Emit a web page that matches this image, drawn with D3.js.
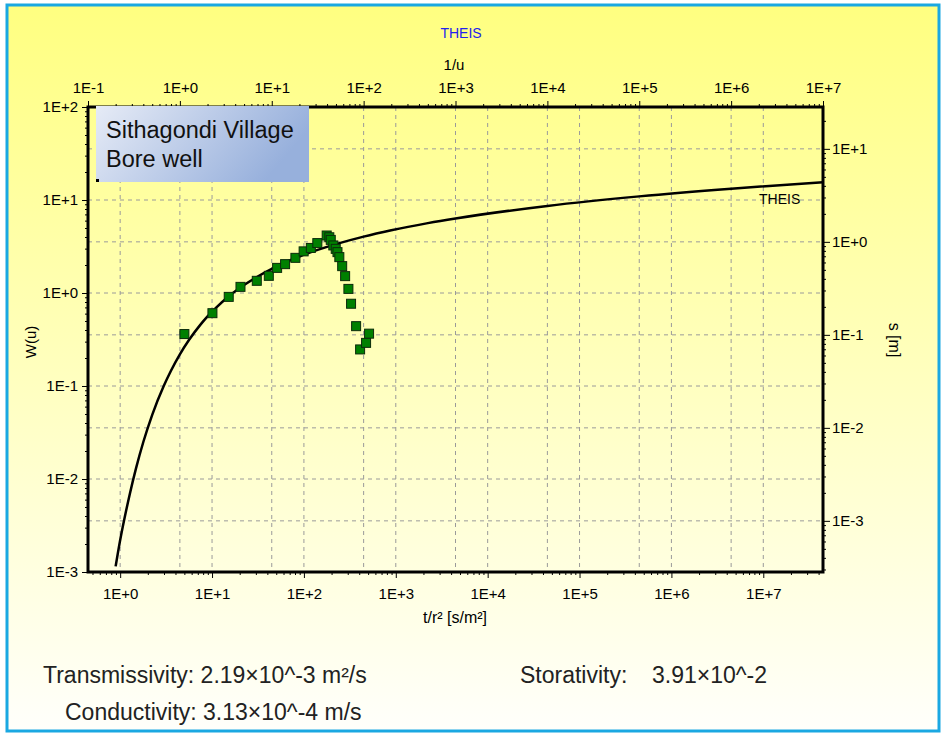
<!DOCTYPE html>
<html>
<head>
<meta charset="utf-8">
<script src="https://cdn.jsdelivr.net/npm/d3@7"></script>
<style>
  body { margin: 0; background: #fff; }
  text { font-family: "Liberation Sans", Arial, sans-serif; }
</style>
</head>
<body>
<script>
// tick labels (values are parsed from the labels)
var topTickLabels = ["1E-1", "1E+0", "1E+1", "1E+2", "1E+3", "1E+4", "1E+5", "1E+6", "1E+7"];
var bottomTickLabels = ["1E+0", "1E+1", "1E+2", "1E+3", "1E+4", "1E+5", "1E+6", "1E+7"];
var leftTickLabels = ["1E-3", "1E-2", "1E-1", "1E+0", "1E+1", "1E+2"];
var rightTickLabels = ["1E-3", "1E-2", "1E-1", "1E+0", "1E+1"];

// Theis type curve: 1/u against W(u)
var theisInvU = [0.2, 0.222, 0.25, 0.286, 0.333, 0.4, 0.5, 0.667, 0.8, 1, 1.25, 1.667, 2, 2.5, 3.33,
  5, 6.67, 10, 20, 50, 100, 200, 500, 1e3, 1e4, 1e5, 1e6, 1e7];
var theisW = [0.00115, 0.0021, 0.0038, 0.007, 0.013, 0.025, 0.049, 0.1, 0.146, 0.219, 0.31, 0.454, 0.56, 0.70, 0.906,
  1.22, 1.46, 1.82, 2.47, 3.35, 4.04, 4.73, 5.64, 6.33, 8.63, 10.94, 13.24, 15.54];

// measured drawdown: t/r² [s/m²] against s [m]
var obsTr2 = [5.0, 10.1, 15.2, 20.4, 30.7, 41.5, 51.1, 62.4, 80.8, 99.3, 119, 140, 177, 189, 196,
  209, 222, 232, 243, 261, 281, 305, 326, 370, 409, 475, 512];
var obsS = [0.102, 0.171, 0.256, 0.328, 0.381, 0.431, 0.525, 0.576, 0.673, 0.79, 0.86, 0.97, 1.17, 1.12, 1.05,
  0.915, 0.841, 0.775, 0.685, 0.548, 0.428, 0.312, 0.216, 0.124, 0.0697, 0.082, 0.103];

var L = 88, R = 823, T = 107, B = 572;

var svg = d3.select("body").append("svg")
  .attr("width", 943)
  .attr("height", 736);

var defs = svg.append("defs");
var bg = defs.append("linearGradient").attr("id", "bg")
  .attr("x1", 0).attr("y1", 0).attr("x2", 0).attr("y2", 1);
bg.append("stop").attr("offset", "0%").attr("stop-color", "#ffff80");
bg.append("stop").attr("offset", "100%").attr("stop-color", "#fffffb");

var lg = defs.append("linearGradient").attr("id", "lg")
  .attr("x1", 0).attr("y1", 0).attr("x2", 1).attr("y2", 0.3);
lg.append("stop").attr("offset", "0%").attr("stop-color", "#e6ebf6");
lg.append("stop").attr("offset", "100%").attr("stop-color", "#97b0dc");

// panel
svg.append("rect")
  .attr("x", 7).attr("y", 5)
  .attr("width", 932).attr("height", 726)
  .attr("fill", "url(#bg)")
  .attr("stroke", "#1aa8e2")
  .attr("stroke-width", 3);

// scales
var xTop = d3.scaleLog().domain([0.1, 1e7]).range([L, R]);
var xBot = d3.scaleLog().domain([Math.pow(10, -0.35), Math.pow(10, 7.65)]).range([L, R]);
var yLeft = d3.scaleLog().domain([1e-3, 1e2]).range([B, T]);
var yRight = d3.scaleLog().domain([Math.pow(10, -3.55), Math.pow(10, 1.45)]).range([B, T]);

function minors(scale) {
  var d = scale.domain(), out = [];
  var lo = Math.floor(Math.log10(d[0])), hi = Math.ceil(Math.log10(d[1]));
  for (var e = lo; e <= hi; e++) {
    for (var m = 2; m <= 9; m++) {
      var v = m * Math.pow(10, e);
      if (v >= d[0] && v <= d[1]) out.push(v);
    }
  }
  return out;
}

// grid
var grid = svg.append("g")
  .attr("stroke", "#9a9a9a")
  .attr("stroke-width", 1)
  .attr("stroke-dasharray", "4,4");

topTickLabels.forEach(function (lab) {
  grid.append("line").attr("x1", xTop(+lab)).attr("x2", xTop(+lab)).attr("y1", T).attr("y2", B);
});
bottomTickLabels.forEach(function (lab) {
  grid.append("line").attr("x1", xBot(+lab)).attr("x2", xBot(+lab)).attr("y1", T).attr("y2", B);
});
leftTickLabels.forEach(function (lab) {
  grid.append("line").attr("y1", yLeft(+lab)).attr("y2", yLeft(+lab)).attr("x1", L).attr("x2", R);
});
rightTickLabels.forEach(function (lab) {
  grid.append("line").attr("y1", yRight(+lab)).attr("y2", yRight(+lab)).attr("x1", L).attr("x2", R);
});

// Theis curve
var line = d3.line()
  .x(function (d) { return xTop(d[0]); })
  .y(function (d) { return yLeft(d[1]); })
  .curve(d3.curveMonotoneX);

svg.append("path")
  .datum(d3.zip(theisInvU, theisW))
  .attr("d", line)
  .attr("fill", "none")
  .attr("stroke", "#000")
  .attr("stroke-width", 2.5);

svg.append("text")
  .attr("x", 759).attr("y", 204)
  .attr("font-size", 14)
  .attr("fill", "#000")
  .text("THEIS");

// measured points
svg.append("g").selectAll("rect")
  .data(d3.zip(obsTr2, obsS))
  .join("rect")
  .attr("x", function (d) { return xBot(d[0]) - 4.5; })
  .attr("y", function (d) { return yRight(d[1]) - 4.5; })
  .attr("width", 9)
  .attr("height", 9)
  .attr("fill", "#008000")
  .attr("stroke", "#0b2b0b")
  .attr("stroke-width", 1);

// frame
svg.append("rect")
  .attr("x", L).attr("y", T)
  .attr("width", R - L).attr("height", B - T)
  .attr("fill", "none")
  .attr("stroke", "#000")
  .attr("stroke-width", 3);

// axes
function styleAxis(g) {
  g.select(".domain").remove();
  g.selectAll("line").attr("stroke", "#000");
  g.selectAll("text").attr("font-size", 15).attr("fill", "#000")
    .attr("font-family", "Liberation Sans, Arial, sans-serif");
}

function fmt(labels) { return function (d, i) { return labels[i]; }; }

svg.append("g").attr("transform", "translate(0," + T + ")")
  .call(d3.axisTop(xTop).tickValues(topTickLabels.map(Number)).tickFormat(fmt(topTickLabels)).tickSize(6).tickPadding(8))
  .call(styleAxis);
svg.append("g").attr("transform", "translate(0," + T + ")")
  .call(d3.axisTop(xTop).tickValues(minors(xTop)).tickFormat("").tickSize(3))
  .call(styleAxis);

svg.append("g").attr("transform", "translate(0," + B + ")")
  .call(d3.axisBottom(xBot).tickValues(bottomTickLabels.map(Number)).tickFormat(fmt(bottomTickLabels)).tickSize(6).tickPadding(10))
  .call(styleAxis);
svg.append("g").attr("transform", "translate(0," + B + ")")
  .call(d3.axisBottom(xBot).tickValues(minors(xBot)).tickFormat("").tickSize(3))
  .call(styleAxis);

svg.append("g").attr("transform", "translate(" + L + ",0)")
  .call(d3.axisLeft(yLeft).tickValues(leftTickLabels.map(Number)).tickFormat(fmt(leftTickLabels)).tickSize(6).tickPadding(4))
  .call(styleAxis);
svg.append("g").attr("transform", "translate(" + L + ",0)")
  .call(d3.axisLeft(yLeft).tickValues(minors(yLeft)).tickFormat("").tickSize(3))
  .call(styleAxis);

svg.append("g").attr("transform", "translate(" + R + ",0)")
  .call(d3.axisRight(yRight).tickValues(rightTickLabels.map(Number)).tickFormat(fmt(rightTickLabels)).tickSize(7).tickPadding(2))
  .call(styleAxis);
svg.append("g").attr("transform", "translate(" + R + ",0)")
  .call(d3.axisRight(yRight).tickValues(minors(yRight)).tickFormat("").tickSize(3))
  .call(styleAxis);

// titles
svg.append("text").attr("x", 461).attr("y", 38)
  .attr("text-anchor", "middle").attr("font-size", 14).attr("fill", "#2222ee")
  .text("THEIS");
svg.append("text").attr("x", 454).attr("y", 70)
  .attr("text-anchor", "middle").attr("font-size", 15).attr("fill", "#000")
  .text("1/u");
svg.append("text").attr("x", 455).attr("y", 623)
  .attr("text-anchor", "middle").attr("font-size", 16).attr("fill", "#000")
  .text("t/r² [s/m²]");
svg.append("text")
  .attr("transform", "translate(36,342) rotate(-90)")
  .attr("text-anchor", "middle").attr("font-size", 15).attr("fill", "#000")
  .text("W(u)");
svg.append("text")
  .attr("transform", "translate(889,340) rotate(90)")
  .attr("text-anchor", "middle").attr("font-size", 16).attr("fill", "#000")
  .text("s [m]");

// legend box
svg.append("rect")
  .attr("x", 96).attr("y", 106)
  .attr("width", 213).attr("height", 76)
  .attr("fill", "url(#lg)");
svg.append("rect")
  .attr("x", 96).attr("y", 179)
  .attr("width", 3).attr("height", 3)
  .attr("fill", "#000");
var leg = svg.append("text")
  .attr("font-family", "Open Sans, Noto Sans, sans-serif")
  .attr("font-size", 23.5)
  .attr("fill", "#111");
leg.append("tspan").attr("x", 106).attr("y", 138).text("Sithagondi Village");
leg.append("tspan").attr("x", 106).attr("y", 167).text("Bore well");

// results
var res = svg.append("g").attr("font-size", 23).attr("fill", "#222");
res.append("text").attr("x", 43).attr("y", 683).text("Transmissivity: 2.19×10^-3 m²/s");
res.append("text").attr("x", 520).attr("y", 683).text("Storativity:");
res.append("text").attr("x", 652).attr("y", 683).text("3.91×10^-2");
res.append("text").attr("x", 65).attr("y", 720).text("Conductivity: 3.13×10^-4 m/s");
</script>
</body>
</html>
